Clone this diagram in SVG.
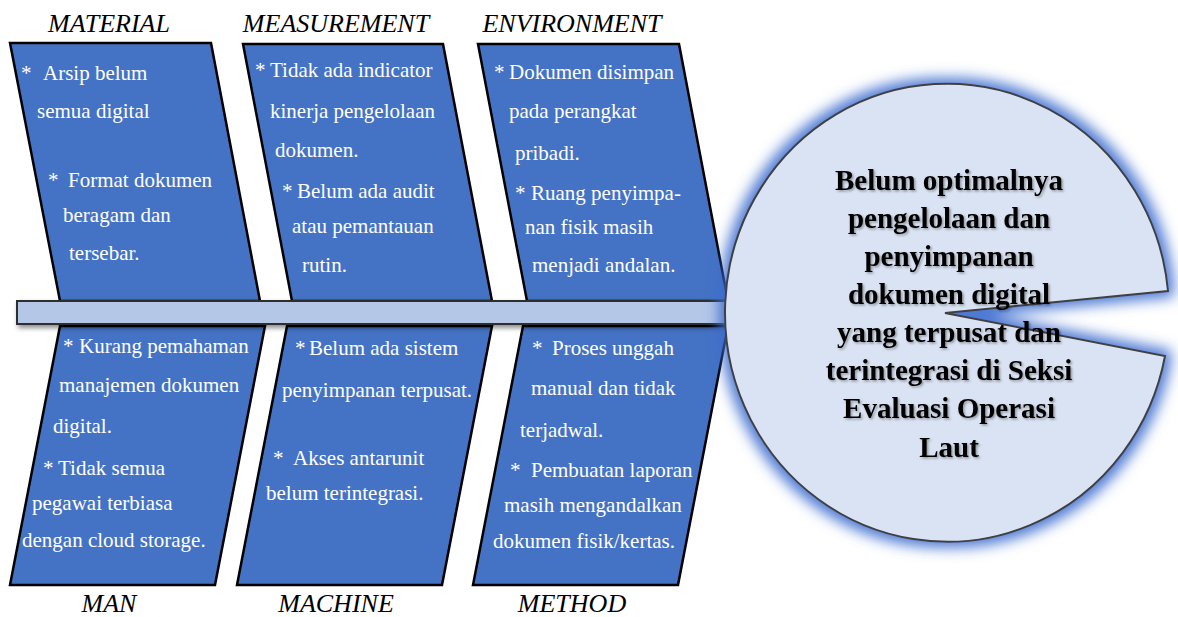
<svg xmlns="http://www.w3.org/2000/svg" width="1178" height="617" viewBox="0 0 1178 617">
<style>
.box{fill:#4472C4;stroke:#000;stroke-width:2.5;stroke-linejoin:miter}
.t{font-family:"Liberation Serif","Times New Roman",serif;font-size:21px;fill:#fff}
.lbl{font-family:"Liberation Serif","Times New Roman",serif;font-size:26px;font-style:italic;fill:#000;text-anchor:middle}
.head{font-family:"Liberation Serif","Times New Roman",serif;font-size:29px;font-weight:bold;fill:#000;text-anchor:middle}
</style>
<defs>
<filter id="glow" x="-20%" y="-20%" width="140%" height="140%">
<feMorphology in="SourceAlpha" operator="dilate" radius="5" result="d"/>
<feGaussianBlur in="d" stdDeviation="7" result="b"/>
<feFlood flood-color="#3A6BCF" flood-opacity="0.9"/>
<feComposite in2="b" operator="in" result="g"/>
<feMerge><feMergeNode in="g"/><feMergeNode in="SourceGraphic"/></feMerge>
</filter>
<filter id="sh" x="-5%" y="-50%" width="110%" height="250%">
<feDropShadow dx="2" dy="3" stdDeviation="2.5" flood-color="#000" flood-opacity="0.45"/>
</filter>
<filter id="tsh" x="-10%" y="-10%" width="120%" height="130%">
<feDropShadow dx="1.5" dy="1.5" stdDeviation="1" flood-color="#000" flood-opacity="0.35"/>
</filter>
</defs>
<rect width="1178" height="617" fill="#fff"/>

<g id="material">
<polygon class="box" points="10,43 211,43 260,301 60,301"/>
<text class="t" x="21" y="80">*<tspan x="43">Arsip belum</tspan></text>
<text class="t" x="37" y="118">semua digital</text>
<text class="t" x="48" y="187">*<tspan x="68">Format dokumen</tspan></text>
<text class="t" x="63" y="222">beragam dan</text>
<text class="t" x="69" y="260">tersebar.</text>
<text class="lbl" x="109" y="32">MATERIAL</text>
</g>

<g id="measurement">
<polygon class="box" points="243,44 443,44 492,301 292,301"/>
<text class="t" x="255" y="77">*<tspan x="270">Tidak ada indicator</tspan></text>
<text class="t" x="270" y="118">kinerja pengelolaan</text>
<text class="t" x="275" y="157">dokumen.</text>
<text class="t" x="282" y="198">*<tspan x="297">Belum ada audit</tspan></text>
<text class="t" x="292" y="233">atau pemantauan</text>
<text class="t" x="302" y="272">rutin.</text>
<text class="lbl" x="336" y="32">MEASUREMENT</text>
</g>

<g id="environment">
<polygon class="box" points="478,44 679,44 728,301 527,301"/>
<text class="t" x="494" y="79">*<tspan x="509">Dokumen disimpan</tspan></text>
<text class="t" x="509" y="118">pada perangkat</text>
<text class="t" x="515" y="160">pribadi.</text>
<text class="t" x="515" y="200">*<tspan x="531">Ruang penyimpa-</tspan></text>
<text class="t" x="525" y="234">nan fisik masih</text>
<text class="t" x="532" y="272">menjadi andalan.</text>
<text class="lbl" x="572" y="32">ENVIRONMENT</text>
</g>

<g id="man">
<polygon class="box" points="60,326 265,326 215,585 10,585"/>
<text class="t" x="63" y="353">*<tspan x="79">Kurang pemahaman</tspan></text>
<text class="t" x="59" y="392">manajemen dokumen</text>
<text class="t" x="53" y="433">digital.</text>
<text class="t" x="43" y="475">*<tspan x="58">Tidak semua</tspan></text>
<text class="t" x="32" y="510">pegawai terbiasa</text>
<text class="t" x="22" y="547">dengan cloud storage.</text>
<text class="lbl" x="109" y="612">MAN</text>
</g>

<g id="machine">
<polygon class="box" points="287,326 492,326 442,585 237,585"/>
<text class="t" x="295" y="355">*<tspan x="309">Belum ada sistem</tspan></text>
<text class="t" x="282" y="397">penyimpanan terpusat.</text>
<text class="t" x="273" y="465">*<tspan x="293">Akses antarunit</tspan></text>
<text class="t" x="266" y="500">belum terintegrasi.</text>
<text class="lbl" x="336" y="612">MACHINE</text>
</g>

<g id="method">
<polygon class="box" points="523,326 728,326 678,585 473,585"/>
<text class="t" x="532" y="355">*<tspan x="552">Proses unggah</tspan></text>
<text class="t" x="531" y="395">manual dan tidak</text>
<text class="t" x="520" y="437">terjadwal.</text>
<text class="t" x="510" y="477">*<tspan x="531">Pembuatan laporan</tspan></text>
<text class="t" x="504" y="512">masih mengandalkan</text>
<text class="t" x="493" y="548">dokumen fisik/kertas.</text>
<text class="lbl" x="572" y="612">METHOD</text>
</g>

<g id="connectors">
<rect x="17" y="301" width="711" height="23" fill="#B4C7E7" stroke="#2F2F2F" stroke-width="2" filter="url(#sh)"/>
</g>

<g id="problem">
<path d="M1168,291 A222,229 0 1 0 1165,356 L945,313 Z" fill="#DAE3F3" stroke="#404040" stroke-width="2" filter="url(#glow)"/>
<g filter="url(#tsh)">
<text class="head" x="949" y="190">Belum optimalnya</text>
<text class="head" x="949" y="228">pengelolaan dan</text>
<text class="head" x="949" y="266">penyimpanan</text>
<text class="head" x="949" y="304">dokumen digital</text>
<text class="head" x="949" y="342">yang terpusat dan</text>
<text class="head" x="949" y="380">terintegrasi di Seksi</text>
<text class="head" x="949" y="418">Evaluasi Operasi</text>
<text class="head" x="949" y="457">Laut</text>
</g>
</g>
</svg>
